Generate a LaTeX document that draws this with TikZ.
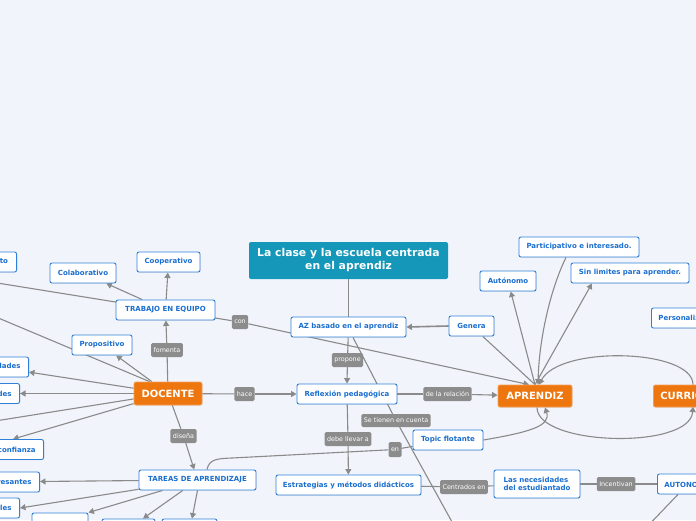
\documentclass[tikz,border=0pt]{standalone}
\usepackage{fontspec}
\setmainfont{DejaVu Sans}
\usetikzlibrary{arrows.meta,calc,shadows}
\definecolor{bgc}{HTML}{F2F4FC}
\definecolor{bluetxt}{HTML}{1A6ECF}
\definecolor{blueln}{HTML}{2F80D8}
\definecolor{orng}{HTML}{EE760F}
\definecolor{tealc}{HTML}{1497B8}
\definecolor{lblc}{HTML}{8C8C8C}
\definecolor{linec}{HTML}{8A8A8A}
\pgfdeclarelayer{bgl}
\pgfdeclarelayer{edges}
\pgfsetlayers{bgl,edges,main}
\tikzset{
  sz/.style 2 args={minimum width=#1pt,minimum height=#2pt},
  bnode/.style={draw=blueln, fill=white, line width=0.9pt, rounded corners=2pt,
    text=bluetxt, font=\fontsize{7}{8.6}\selectfont\bfseries, inner sep=0pt,
    align=center, drop shadow={opacity=0.12,shadow xshift=0.6pt,shadow yshift=-0.8pt}},
  pnode/.style={bnode, inner xsep=8pt, minimum height=20pt},
  onode/.style={draw=orng!70!white, fill=orng, line width=0.8pt, rounded corners=2pt,
    text=white, font=\fontsize{10}{11}\selectfont\bfseries, inner sep=0pt,
    drop shadow={opacity=0.15,shadow xshift=0.6pt,shadow yshift=-0.8pt}},
  tnode/.style={fill=tealc, rounded corners=2pt, text=white,
    font=\fontsize{10.8}{13}\selectfont\bfseries, inner sep=0pt, align=center},
  lnode/.style={fill=lblc, rounded corners=1.5pt, text=white,
    font=\fontsize{6.4}{7}\selectfont, inner xsep=2.5pt, inner ysep=0pt, minimum height=14pt},
  cline/.style={draw=linec, line width=1.1pt},
  arr/.style={cline, -{Triangle[length=5.5pt,width=6pt]}},
}
\begin{document}
\begin{tikzpicture}[x=1pt,y=-1pt]
\useasboundingbox (0,0) rectangle (696,520);
\begin{pgfonlayer}{bgl}
\fill[bgc] (0,0) rectangle (696,520);
\end{pgfonlayer}

% main nodes
\node[tnode, sz={199}{37}] (title) at (348.5,260.5) {La clase y la escuela centrada\\en el aprendiz};
\node[bnode, sz={115}{20}] (az) at (348.5,327) {AZ basado en el aprendiz};
\node[bnode, sz={45}{20}] (genera) at (471.5,326) {Genera};
\node[bnode, sz={56}{20}] (autonomo) at (508,281) {Autónomo};
\node[bnode, sz={120}{20}] (particip) at (579,247) {Participativo e interesado.};
\node[bnode, sz={118}{20}] (sinlim) at (630,273) {Sin limites para aprender.};
\node[pnode, anchor=west, inner xsep=7pt] (personal) at (651,318) {Personalizado};
\node[onode, sz={74}{22}] (aprendiz) at (535,396) {APRENDIZ};
\node[onode, anchor=west, inner xsep=7pt, minimum height=22pt] (curri) at (653,396) {CURRICULO};
\node[pnode, anchor=west, inner xsep=7pt] (autono) at (657,484) {AUTONOMÍA};
\node[bnode, sz={86}{28}, align=left] (necesid) at (537,484) {Las necesidades\\del estudiantado};
\node[bnode, sz={70}{20}] (topic) at (448,440) {Topic flotante};
\node[bnode, sz={100}{20}] (reflex) at (347,394) {Reflexión pedagógica};
\node[bnode, sz={145}{20}] (estrat) at (348.5,485) {Estrategias y métodos didácticos};
\node[onode, sz={68}{23}] (docente) at (168,393.5) {DOCENTE};
\node[bnode, sz={99}{20}] (trabajo) at (165.5,310) {TRABAJO EN EQUIPO};
\node[bnode, sz={66}{20}] (colab) at (83,273) {Colaborativo};
\node[bnode, sz={63}{20}] (coop) at (168.5,262) {Cooperativo};
\node[pnode, anchor=east, inner xsep=8.5pt] (respeto) at (17,262) {Respeto};
\node[bnode, sz={60}{20}] (proposit) at (102,345) {Propositivo};
\node[pnode, anchor=east] (dades) at (29,367) {Capacidades};
\node[pnode, anchor=east] (des) at (20,393.5) {Habilidades};
\node[pnode, anchor=east] (confianza) at (44,449.5) {Clima de confianza};
\node[pnode, anchor=east] (resantes) at (40,482) {Actividades interesantes};
\node[pnode, anchor=east] (les) at (20,508) {Materiales};
\node[bnode, sz={117}{20}] (tareas) at (197.5,480) {TAREAS DE APRENDIZAJE};
\node[bnode, sz={56}{20}] (b1) at (60,523) {};
\node[bnode, sz={53}{20}] (b2) at (128.5,529) {};
\node[bnode, sz={55}{20}] (b3) at (189.5,529) {};

% labels
\node[lnode] (con) at (240,322) {con};
\node[lnode] (fomenta) at (167,350) {fomenta};
\node[lnode] (hace) at (244.5,394) {hace};
\node[lnode] (disena) at (183.5,436) {diseña};
\node[lnode] (propone) at (347.5,360) {propone};
\node[lnode] (delarel) at (447.5,394) {de la relación};
\node[lnode, minimum height=13pt] (setienen) at (396,420.5) {Se tienen en cuenta};
\node[lnode] (debe) at (348,439) {debe llevar a};
\node[lnode, minimum height=15pt] (en) at (395,449.5) {en};
\node[lnode] (centrados) at (464,487) {Centrados en};
\node[lnode] (incentivan) at (616,484) {Incentivan};

% free ends
\coordinate (offL1) at (-40,277);
\coordinate (offL2) at (-20,310.3);
\coordinate (offL3) at (-30,425);
\coordinate (offS) at (462,540);
\coordinate (offSE) at (640,534);
\coordinate (enbend) at (232,458);
\coordinate (tstart) at ($(tareas.north)+(9.5,0)$);
\coordinate (azs) at ($(az.south)+(4.5,0)$);
\coordinate (docnw) at ($(docente.north west)+(16,0)$);

\begin{pgfonlayer}{edges}
\draw[cline] (title.south) -- (az.north);
\draw[cline] (az) -- (propone);
\draw[arr] (propone) -- (reflex.north);
\draw[cline] (reflex) -- (debe);
\draw[arr] (debe) -- (estrat);
\draw[cline] (reflex) -- (delarel);
\draw[arr] (delarel) -- (aprendiz);
\draw[cline] (docente) -- (hace);
\draw[arr] (hace) -- (reflex);
\draw[cline] (docente) -- (fomenta);
\draw[arr] (fomenta) -- (trabajo);
\draw[cline] (docente) -- (disena);
\draw[arr] (disena) -- (tareas);
\draw[arr] (trabajo) -- (colab);
\draw[arr] (trabajo) -- (coop);
\draw[cline] (offL1) -- (con);
\draw[arr] (con) -- ($(aprendiz.north)+(-6,0)$);
\draw[arr, line width=1.6pt] (genera.west) -- (az.east);
\draw[cline] (genera) -- (aprendiz.north);
\draw[arr] (aprendiz.north) -- (autonomo);
\draw[arr] (aprendiz.north) -- ($(sinlim.south west)!0.18!(sinlim.south east)$);
\draw[arr] ($(particip.south)+(-13,0)$) .. controls (550,290) and (539,340) .. ($(aprendiz.north)+(3,0)$);
\draw[arr] ($(curri.north west)+(40,0)$) .. controls (693,349) and (560,345) .. ($(aprendiz.north)+(4,0)$);
\draw[arr] ($(aprendiz.south)+(2,0)$) .. controls (537,446) and (690,450) .. ($(curri.north west)+(40,22)$);
\draw[arr] (topic.east) .. controls (530,432) and (551,426) .. ($(aprendiz.south)+(10,0)$);
\draw[cline] (tstart) .. controls (209,459) and (218,458.5) .. (enbend) -- (en);
\draw[cline] (en) -- (topic);
\draw[cline] (azs) -- (setienen) -- (offS);
\draw[cline] (estrat) -- (centrados) -- (necesid);
\draw[cline] (necesid) -- (incentivan) -- (autono);
\draw[cline] ($(autono.south west)+(21,0)$) -- (offSE);
\draw[cline] (docnw) -- (offL2);
\draw[arr] (docente) -- (proposit);
\draw[arr] (docente) -- (dades);
\draw[arr] (docente) -- (des);
\draw[cline] (docente) -- (offL3);
\draw[arr] (docente) -- ($(confianza.north east)+(-31,0)$);
\draw[arr] (tareas) -- (resantes);
\draw[arr] (tareas) -- (les.east);
\draw[arr] (tareas) -- (b1.north east);
\draw[arr] (tareas) -- ($(b2.north)+(14.5,0)$);
\draw[arr] (tareas.south) -- ($(b3.north)+(2.5,0)$);
\end{pgfonlayer}
\end{tikzpicture}
\end{document}
